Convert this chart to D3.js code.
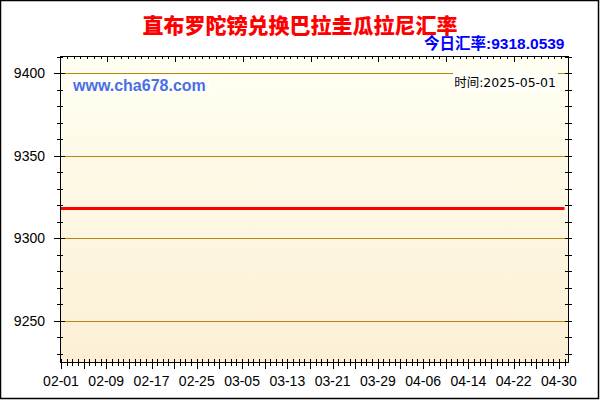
<!DOCTYPE html>
<html>
<head>
<meta charset="utf-8">
<script src="https://cdn.jsdelivr.net/npm/d3@7"></script>
<style>
  body { margin: 0; background: #fff; }
  svg { display: block; }
</style>
</head>
<body>
<script>
// data
var title = "直布罗陀镑兑换巴拉圭瓜拉尼汇率";
var rateLabel = "今日汇率:9318.0539";
var siteLabel = "www.cha678.com";
var timeLabel = "时间:2025-05-01";
var lineDates = ["2025-02-01", "2025-05-01"];
var lineValues = [9318.0539, 9318.0539];
var yTickValues = [9250, 9300, 9350, 9400];
var xTickLabels = ["02-01", "02-09", "02-17", "02-25", "03-05", "03-13", "03-21", "03-29", "04-06", "04-14", "04-22", "04-30"];

var W = 600, H = 400;
// plot box (note: "top" is taken by window.top, so p* names)
var pLeft = 60, pRight = 568, pTop = 56, pBottom = 362;
var parse = d3.timeParse("%Y-%m-%d");

var svg = d3.select("body").append("svg")
  .attr("width", W)
  .attr("height", H);

var defs = svg.append("defs");
var grad = defs.append("linearGradient")
  .attr("id", "bg")
  .attr("x1", 0).attr("y1", 0).attr("x2", 0).attr("y2", 1);
grad.append("stop").attr("offset", "0%").attr("stop-color", "#fffff2");
grad.append("stop").attr("offset", "100%").attr("stop-color", "#fcefd4");

var x = d3.scaleTime()
  .domain([parse("2025-02-01"), parse("2025-05-01")])
  .range([61, 564.5]);
var y = d3.scaleLinear()
  .domain([9225, 9410.6])
  .range([pBottom, pTop]);

// plot background
svg.append("rect")
  .attr("x", pLeft).attr("y", pTop)
  .attr("width", pRight - pLeft).attr("height", pBottom - pTop)
  .attr("fill", "url(#bg)");

// gridlines
svg.selectAll("line.grid")
  .data(yTickValues)
  .enter()
  .append("line")
  .attr("class", "grid")
  .attr("x1", pLeft + 5).attr("x2", pRight)
  .attr("y1", function(d) { return Math.round(y(d)) + 0.5; })
  .attr("y2", function(d) { return Math.round(y(d)) + 0.5; })
  .attr("stroke", "#b8860b")
  .attr("stroke-width", 1);

// text boxes over the plot
svg.append("rect")
  .attr("x", 70).attr("y", 75).attr("width", 140).attr("height", 19)
  .attr("fill", "#fffff8");
svg.append("rect")
  .attr("x", 453).attr("y", 72).attr("width", 105).attr("height", 20)
  .attr("fill", "#fffffa");

svg.append("text")
  .attr("x", 73).attr("y", 90.5)
  .attr("font-family", "'Liberation Sans', Arial, sans-serif")
  .attr("font-size", 16)
  .attr("font-weight", "bold")
  .attr("fill", "#4a6fe6")
  .text(siteLabel);

svg.append("text")
  .attr("x", 556).attr("y", 87)
  .attr("text-anchor", "end")
  .attr("font-family", "'DejaVu Sans', 'Noto Sans CJK SC', sans-serif")
  .attr("font-size", 12.5)
  .attr("fill", "#000")
  .text(timeLabel);

// the rate line
var lineData = lineDates.map(function(d, i) { return { date: parse(d), value: lineValues[i] }; });
svg.append("path")
  .datum(lineData)
  .attr("d", d3.line()
    .x(function(d) { return x(d.date); })
    .y(function(d) { return y(d.value); }))
  .attr("fill", "none")
  .attr("stroke", "#ff0000")
  .attr("stroke-width", 3);

// frame
svg.append("rect")
  .attr("x", pLeft + 0.5).attr("y", pTop + 0.5)
  .attr("width", pRight - pLeft).attr("height", pBottom - pTop)
  .attr("fill", "none")
  .attr("stroke", "#000");

// left + right ticks, every 10
var yMinor = d3.range(9230, 9411, 10);
svg.selectAll("line.ly")
  .data(yMinor)
  .enter()
  .append("line")
  .attr("x1", function(d) { return d % 50 === 0 ? 54 : 57; })
  .attr("x2", function(d) { return d % 50 === 0 ? 65 : 63; })
  .attr("y1", function(d) { return Math.round(y(d)) + 0.5; })
  .attr("y2", function(d) { return Math.round(y(d)) + 0.5; })
  .attr("stroke", "#000");
svg.selectAll("line.ry")
  .data(yMinor)
  .enter()
  .append("line")
  .attr("x1", 565).attr("x2", 572)
  .attr("y1", function(d) { return Math.round(y(d)) + 0.5; })
  .attr("y2", function(d) { return Math.round(y(d)) + 0.5; })
  .attr("stroke", "#000");

// bottom ticks: daily, longer every 4 days
var days = d3.timeDay.range(parse("2025-02-01"), parse("2025-05-02"));
svg.selectAll("line.bx")
  .data(days)
  .enter()
  .append("line")
  .attr("x1", function(d) { return Math.round(x(d)) + 0.5; })
  .attr("x2", function(d) { return Math.round(x(d)) + 0.5; })
  .attr("y1", pBottom - 3)
  .attr("y2", function(d, i) { return i % 4 === 0 ? pBottom + 7 : pBottom + 4; })
  .attr("stroke", "#000");

// top ticks
var xTop = d3.scaleLinear().domain([0, 75]).range([pLeft, pRight]);
svg.selectAll("line.tx")
  .data(d3.range(1, 75))
  .enter()
  .append("line")
  .attr("x1", function(d) { return Math.round(xTop(d)) + 0.5; })
  .attr("x2", function(d) { return Math.round(xTop(d)) + 0.5; })
  .attr("y1", pTop)
  .attr("y2", function(d) { return d % 10 === 7 ? pTop + 6 : pTop + 3; })
  .attr("stroke", "#000");

// tick labels
svg.selectAll("text.yl")
  .data(yTickValues)
  .enter()
  .append("text")
  .attr("x", 45)
  .attr("y", function(d) { return y(d) + 5; })
  .attr("text-anchor", "end")
  .attr("font-family", "'Liberation Sans', Arial, sans-serif")
  .attr("font-size", 14)
  .attr("fill", "#000")
  .text(function(d) { return d; });

svg.selectAll("text.xl")
  .data(xTickLabels)
  .enter()
  .append("text")
  .attr("x", function(d) { return x(parse("2025-" + d)); })
  .attr("y", 386)
  .attr("text-anchor", "middle")
  .attr("font-family", "'Liberation Sans', Arial, sans-serif")
  .attr("font-size", 14)
  .attr("fill", "#000")
  .text(function(d) { return d; });

// titles
svg.append("text")
  .attr("x", 300).attr("y", 33)
  .attr("text-anchor", "middle")
  .attr("font-family", "'Noto Sans CJK SC', sans-serif")
  .attr("font-size", 21)
  .attr("font-weight", 900)
  .attr("fill", "#ff0000")
  .text(title);

svg.append("text")
  .attr("x", 564.5).attr("y", 48.5)
  .attr("text-anchor", "end")
  .attr("font-family", "'Liberation Sans', 'Noto Sans CJK SC', sans-serif")
  .attr("font-size", 15.5)
  .attr("font-weight", "bold")
  .attr("fill", "#0000ff")
  .text(rateLabel);

// outer border
svg.append("rect")
  .attr("x", 0.5).attr("y", 0.5)
  .attr("width", W - 2).attr("height", H - 2)
  .attr("fill", "none")
  .attr("stroke", "#000")
  .attr("stroke-width", 1.5);
</script>
</body>
</html>
